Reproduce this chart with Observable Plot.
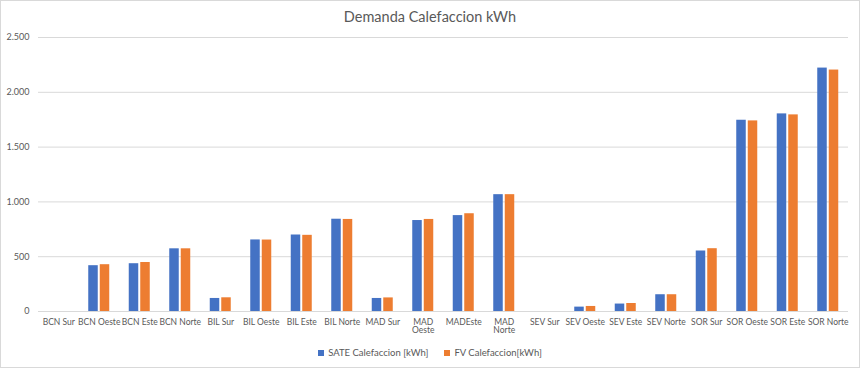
<!DOCTYPE html>
<html>
<head>
<meta charset="utf-8">
<script src="https://cdn.jsdelivr.net/npm/d3@7"></script>
<script src="https://cdn.jsdelivr.net/npm/@observablehq/plot@0.6"></script>
<style>
  body { margin: 0; background: #fff; }
  #wrap { position: relative; width: 860px; height: 368px; box-sizing: border-box; border: 1px solid #d9d9d9; font-family: Lato, sans-serif; color: #595959; overflow: hidden; }
  #title { position: absolute; top: 7px; left: 0; width: 858px; text-align: center; font-size: 14.5px; color: #595959; }
  #chart { position: absolute; top: -1px; left: -1px; width: 860px; height: 346px; }
  #chart svg { max-width: none !important; }
  #legend { position: absolute; top: 346px; left: 0; width: 858px; text-align: center; font-size: 9.5px; color: #595959; }
  #legend span.item { margin: 0 8px; white-space: nowrap; }
  #legend span.sw { display: inline-block; width: 6px; height: 6px; margin-right: 4px; vertical-align: 0px; }
</style>
</head>
<body>
<div id="wrap">
  <div id="title">Demanda Calefaccion kWh</div>
  <div id="chart"></div>
  <div id="legend"></div>
</div>
<script>
const categories = ["BCN Sur","BCN Oeste","BCN Este","BCN Norte","BIL Sur","BIL Oeste","BIL Este","BIL Norte","MAD Sur","MAD Oeste","MADEste","MAD Norte","SEV Sur","SEV Oeste","SEV Este","SEV Norte","SOR Sur","SOR Oeste","SOR Este","SOR Norte"];
const tickLabels = ["BCN Sur","BCN Oeste","BCN Este","BCN Norte","BIL Sur","BIL Oeste","BIL Este","BIL Norte","MAD Sur","MAD\nOeste","MADEste","MAD\nNorte","SEV Sur","SEV Oeste","SEV Este","SEV Norte","SOR Sur","SOR Oeste","SOR Este","SOR Norte"];
const series = ["SATE Calefaccion [kWh]", "FV Calefaccion[kWh]"];
const sate = [0, 418, 436, 572, 119, 653, 698, 842, 119, 830, 875, 1066, 0, 40, 68, 153, 552, 1745, 1803, 2221];
const fv   = [0, 427, 447, 572, 125, 652, 695, 840, 124, 840, 892, 1066, 0, 46, 73, 153, 573, 1739, 1794, 2203];
const colors = ["#4472C4", "#ED7D31"];
const yTicks = [0, 500, 1000, 1500, 2000, 2500];

const sateRows = categories.map((c, i) => ({cat: c, series: series[0], value: sate[i]}));
const fvRows = categories.map((c, i) => ({cat: c, series: series[1], value: fv[i]}));

const fmt = d3.formatLocale({decimal: ",", thousands: ".", grouping: [3], currency: ["", ""]}).format(",");

// band step = (860-38-12)/20 = 40.5; each bar 9.5px wide, 2px gap between pair
const chart = Plot.plot({
  width: 860,
  height: 346,
  marginLeft: 38,
  marginRight: 12,
  marginTop: 37,
  marginBottom: 35,
  style: {fontFamily: "Lato, sans-serif", fontSize: "9px", color: "#595959", background: "transparent"},
  x: {domain: categories, padding: 0, round: false, label: null},
  y: {domain: [0, 2500], label: null},
  color: {domain: series, range: colors},
  marks: [
    Plot.gridY(yTicks, {stroke: "#d9d9d9", strokeOpacity: 1}),
    Plot.axisY(yTicks, {tickSize: 0, tickPadding: 9, tickFormat: fmt, label: null, fill: "#595959"}),
    Plot.axisX({tickSize: 0, tickPadding: 7, fontSize: 8.5, tickFormat: d => tickLabels[categories.indexOf(d)], label: null, fill: "#595959"}),
    Plot.barY(sateRows, {x: "cat", y: "value", fill: "series", insetLeft: 9.75, insetRight: 21.25}),
    Plot.barY(fvRows, {x: "cat", y: "value", fill: "series", insetLeft: 21.25, insetRight: 9.75}),
    Plot.ruleY([0], {stroke: "#d9d9d9"})
  ]
});
document.getElementById("chart").appendChild(chart);

const legend = document.getElementById("legend");
series.forEach((s, i) => {
  const item = document.createElement("span");
  item.className = "item";
  const sw = document.createElement("span");
  sw.className = "sw";
  sw.style.background = colors[i];
  item.appendChild(sw);
  item.appendChild(document.createTextNode(s));
  legend.appendChild(item);
});
</script>
</body>
</html>
